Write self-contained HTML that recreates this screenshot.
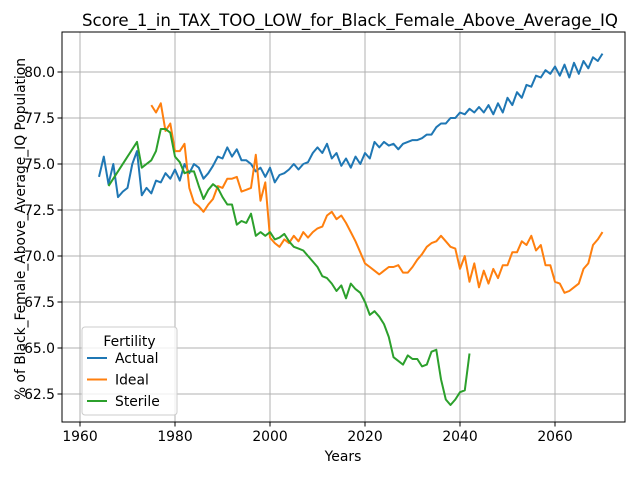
<!DOCTYPE html>
<html><head><meta charset="utf-8"><style>
body{margin:0;background:#fff;font-family:"Liberation Sans","DejaVu Sans",sans-serif}
svg text{font-family:"DejaVu Sans","Liberation Sans",sans-serif}
</style></head><body>
<svg id="chart" width="640" height="480" xmlns="http://www.w3.org/2000/svg"></svg>
<script>
const actualYears=[];for(let y=1964;y<=2070;y++)actualYears.push(y);
const actualValues=[74.3,75.4,73.9,75.0,73.2,73.5,73.7,75.0,75.7,73.3,73.7,73.4,74.1,74.0,74.5,74.2,74.7,74.1,75.0,74.5,75.0,74.8,74.2,74.5,74.9,75.4,75.3,75.9,75.4,75.8,75.2,75.2,75.0,74.6,74.8,74.3,74.8,74.0,74.4,74.5,74.7,75.0,74.7,75.0,75.1,75.6,75.9,75.6,76.1,75.3,75.6,74.9,75.3,74.8,75.4,75.0,75.6,75.3,76.2,75.9,76.2,76.0,76.1,75.8,76.1,76.2,76.3,76.3,76.4,76.6,76.6,77.0,77.2,77.2,77.5,77.5,77.8,77.7,78.0,77.8,78.1,77.8,78.2,77.7,78.3,77.8,78.6,78.2,78.9,78.6,79.3,79.2,79.8,79.7,80.1,79.9,80.3,79.8,80.4,79.7,80.5,79.9,80.6,80.2,80.8,80.6,81.0];
const idealYears=[];for(let y=1975;y<=2070;y++)idealYears.push(y);
const idealValues=[78.2,77.8,78.3,76.8,77.2,75.7,75.7,76.1,73.7,72.9,72.7,72.4,72.8,73.1,73.8,73.7,74.2,74.2,74.3,73.5,73.6,73.7,75.5,73.0,74.0,71.0,70.7,70.5,70.9,70.7,71.1,70.8,71.3,71.0,71.3,71.5,71.6,72.2,72.4,72.0,72.2,71.8,71.3,70.8,70.2,69.6,69.4,69.2,69.0,69.2,69.4,69.4,69.5,69.1,69.1,69.4,69.8,70.1,70.5,70.7,70.8,71.1,70.8,70.5,70.4,69.3,70.0,68.6,69.6,68.3,69.2,68.5,69.3,68.8,69.5,69.5,70.2,70.2,70.8,70.6,71.1,70.3,70.6,69.5,69.5,68.6,68.5,68.0,68.1,68.3,68.5,69.3,69.6,70.6,70.9,71.3];
const sterileYears=[1966,1972];for(let y=1973;y<=2042;y++)sterileYears.push(y);
const sterileValues=[73.8,76.2,74.8,75.0,75.2,75.7,76.9,76.9,76.7,75.4,75.1,74.5,74.6,74.6,73.8,73.1,73.6,73.9,73.7,73.2,72.8,72.8,71.7,71.9,71.8,72.3,71.1,71.3,71.1,71.3,70.9,71.0,71.2,70.8,70.5,70.4,70.3,70.0,69.7,69.4,68.9,68.8,68.5,68.1,68.4,67.7,68.5,68.2,68.0,67.5,66.8,67.0,66.7,66.3,65.6,64.5,64.3,64.1,64.6,64.4,64.4,64.0,64.1,64.8,64.9,63.3,62.2,61.9,62.2,62.6,62.7,64.7];
const xTicks=[1960,1980,2000,2020,2040,2060];
const yTicks=[62.5,65.0,67.5,70.0,72.5,75.0,77.5,80.0];
const seriesNames=["Actual","Ideal","Sterile"];
const colors=["#1f77b4","#ff7f0e","#2ca02c"];

const L=62,R=625,T=32,B=422;
const X=v=>80+(v-1960)*4.75;
const Y=v=>394-(v-62.5)*18.4;
const svg=document.getElementById('chart');const NS='http://www.w3.org/2000/svg';
function mk(t,a,p){const e=document.createElementNS(NS,t);for(const k in a)e.setAttribute(k,a[k]);(p||svg).appendChild(e);return e;}
mk('rect',{x:0,y:0,width:640,height:480,fill:'#fff'});
xTicks.forEach(t=>{
 const g=mk('line',{x1:X(t),x2:X(t),y1:T,y2:B,stroke:'#b0b0b0','stroke-width':1});
 
 mk('line',{x1:X(t),x2:X(t),y1:B,y2:B+4.5,stroke:'#000','stroke-width':1});
 const tx=mk('text',{x:X(t),y:B+19,'font-size':13.9,'text-anchor':'middle'});tx.textContent=t;
 
});
yTicks.forEach(t=>{
 const g=mk('line',{x1:L,x2:R,y1:Y(t),y2:Y(t),stroke:'#b0b0b0','stroke-width':1});
 
 mk('line',{x1:L-4.5,x2:L,y1:Y(t),y2:Y(t),stroke:'#000','stroke-width':1});
 const tx=mk('text',{x:L-7,y:Y(t)+5,'font-size':13.9,'text-anchor':'end'});tx.textContent=t.toFixed(1);
 
});
const data=[[actualYears,actualValues],[idealYears,idealValues],[sterileYears,sterileValues]];
data.forEach((d,i)=>{
 const pts=d[0].map((yr,j)=>X(yr).toFixed(1)+','+Y(d[1][j]).toFixed(1)).join(' ');
 const p=mk('polyline',{points:pts,fill:'none',stroke:colors[i],'stroke-width':2,'stroke-linejoin':'round'});
 
 
});
const fr=mk('rect',{x:L,y:T,width:R-L,height:B-T,fill:'none',stroke:'#000','stroke-width':1});

const title=mk('text',{x:350,y:26,'font-size':16.7,'text-anchor':'middle',textLength:536,lengthAdjust:'spacingAndGlyphs'});title.textContent='Score_1_in_TAX_TOO_LOW_for_Black_Female_Above_Average_IQ';

const xl=mk('text',{x:343,y:461,'font-size':13.9,'text-anchor':'middle'});xl.textContent='Years';

const yl=mk('text',{x:0,y:0,'font-size':13.9,'text-anchor':'middle',textLength:342,lengthAdjust:'spacingAndGlyphs',transform:'translate(25,229) rotate(-90)'});yl.textContent='% of Black_Female_Above_Average_IQ Population';

const lg=mk('g',{});
mk('rect',{x:82,y:327,width:95,height:88,rx:3,fill:'#fff','fill-opacity':0.8,stroke:'#ccc','stroke-width':1},lg);
const lt=mk('text',{x:129.5,y:346,'font-size':13.9,'text-anchor':'middle'},lg);lt.textContent='Fertility';

seriesNames.forEach((n,i)=>{
 const yy=358+i*21.5;
 const e=mk('g',{},lg);
 mk('line',{x1:87,x2:107,y1:yy,y2:yy,stroke:colors[i],'stroke-width':2},e);
 const t=mk('text',{x:115,y:yy+5,'font-size':13.9},e);t.textContent=n;
});
</script>
</body></html>
